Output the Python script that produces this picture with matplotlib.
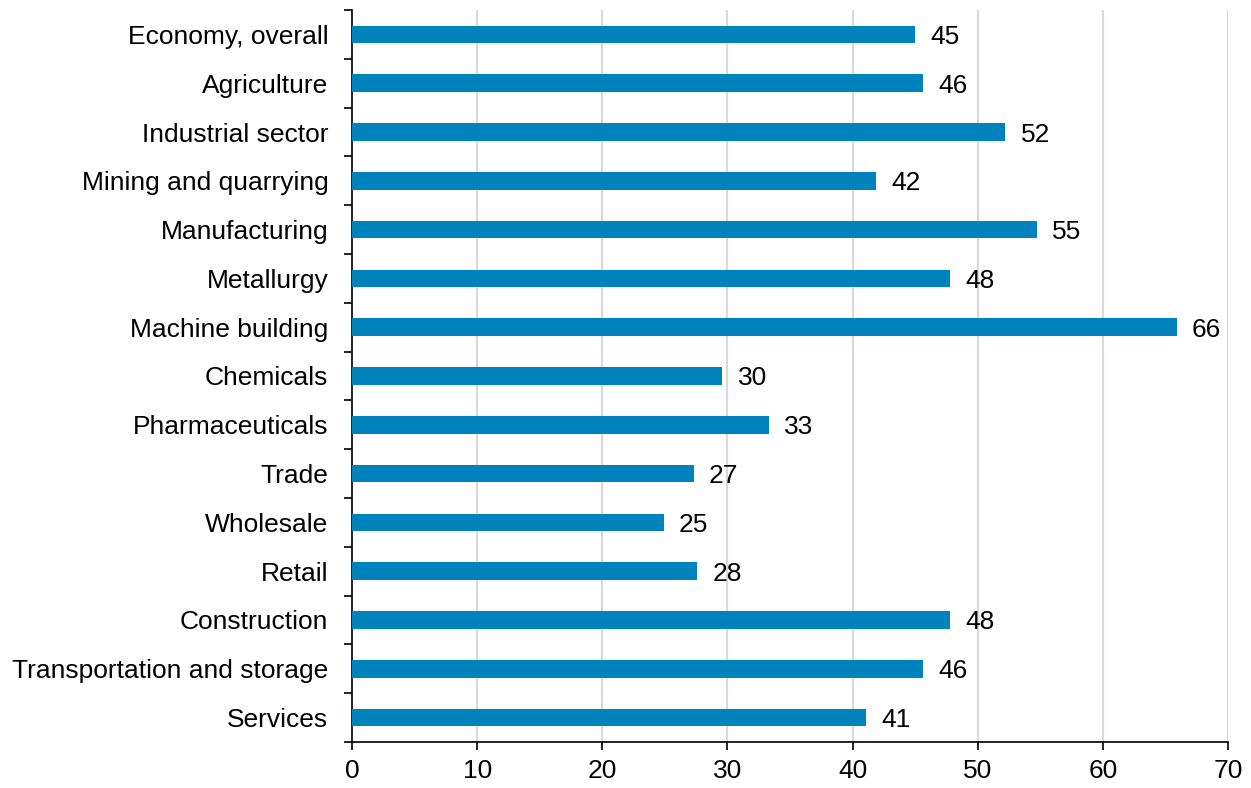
import matplotlib
matplotlib.use("Agg")
import matplotlib.pyplot as plt
import numpy as np

plt.rcParams['font.family'] = ['Liberation Sans', 'DejaVu Sans']

categories = [
    "Economy, overall", "Agriculture", "Industrial sector", "Mining and quarrying",
    "Manufacturing", "Metallurgy", "Machine building", "Chemicals",
    "Pharmaceuticals", "Trade", "Wholesale", "Retail", "Construction",
    "Transportation and storage", "Services",
]
values = [45.0, 45.6, 52.2, 41.9, 54.7, 47.8, 65.9, 29.6, 33.3, 27.3, 24.9, 27.6, 47.8, 45.6, 41.1]
x_ticks = [0, 10, 20, 30, 40, 50, 60, 70]

bar_color = "#0083BD"
grid_color = "#D9D9D9"
fs = 19

fig = plt.figure(figsize=(12.51, 7.88), dpi=100)
ax = fig.add_axes([352 / 1251, 46 / 788, 876 / 1251, 732 / 788])

n = len(categories)
y = np.arange(n)
ax.barh(y, values, height=0.36, color=bar_color, zorder=3)

for yi, v in zip(y, values):
    ax.annotate(f"{v:.0f}", xy=(v, yi), xytext=(11, 0), textcoords="offset points",
                va="center_baseline", ha="left", fontsize=fs, color="black")

ax.set_xlim(0, 70)
ax.set_ylim(n - 0.5, -0.5)
ax.set_xticks(x_ticks)
ax.set_xticklabels([str(t) for t in x_ticks], fontsize=fs)
ax.set_yticks(y)
ax.set_yticklabels(categories, fontsize=fs)
ax.tick_params(axis="y", which="major", length=0, pad=17)
ax.set_yticks(np.arange(-0.5, n, 1.0), minor=True)
ax.tick_params(axis="y", which="minor", length=6, width=1.2, direction="out")
ax.tick_params(axis="x", which="major", length=6, width=1.2, direction="out", pad=6)

for xt in x_ticks[1:]:
    ax.axvline(xt, color=grid_color, linewidth=1.5, zorder=1)

for s in ["top", "right"]:
    ax.spines[s].set_visible(False)
for s in ["left", "bottom"]:
    ax.spines[s].set_linewidth(1.2)
    ax.spines[s].set_color("black")

fig.savefig("out.png", dpi=100)
